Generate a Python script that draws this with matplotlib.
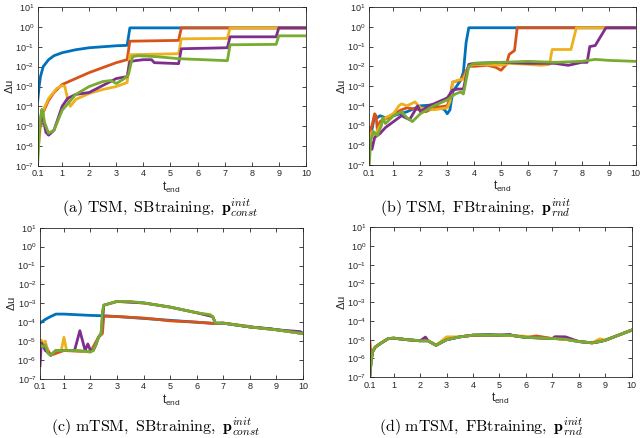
import numpy as np
import matplotlib
matplotlib.use("Agg")
import matplotlib.pyplot as plt
from matplotlib.ticker import FixedLocator, LogLocator, NullFormatter, FuncFormatter

plt.rcParams['font.family'] = ['Liberation Sans', 'DejaVu Sans']
plt.rcParams['mathtext.fontset'] = 'custom'
plt.rcParams['mathtext.rm'] = 'Liberation Sans'
plt.rcParams['mathtext.it'] = 'Liberation Sans:italic'
plt.rcParams['mathtext.bf'] = 'Liberation Sans:bold'

# MATLAB default colour order
colors = ['#0072BD', '#D95319', '#EDB120', '#7E2F8E', '#77AC30']

# ---- (a) TSM, SBtraining, const init  (values are log10 of delta u)
a_blue_x = [0.1, 0.15, 0.2, 0.3, 0.5, 0.7, 1, 1.5, 2, 2.5, 3, 3.4, 3.5, 10]
a_blue_y = [-3.7, -3.0, -2.5, -2.0, -1.65, -1.45, -1.3, -1.15, -1.05, -1.0, -0.95, -0.93, -0.05, -0.05]
a_red_x = [0.1, 0.15, 0.2, 0.25, 0.3, 0.5, 0.7, 1, 1.5, 2, 2.5, 3, 3.4, 3.5, 5.3, 5.4, 10]
a_red_y = [-5.5, -5.0, -4.6, -4.9, -4.3, -3.7, -3.3, -2.9, -2.6, -2.3, -2.05, -1.8, -1.65, -0.72, -0.68, -0.05, -0.05]
a_yel_x = [0.1, 0.15, 0.2, 0.3, 0.5, 0.8, 1, 1.1, 1.2, 1.3, 1.5, 2, 2.5, 3, 3.4, 3.5, 5.3, 5.4, 7.1, 7.2, 10]
a_yel_y = [-6.4, -5.7, -5.0, -4.2, -3.6, -3.1, -2.95, -3.0, -3.6, -4.0, -3.65, -3.35, -3.15, -3.0, -2.8, -1.4, -1.35, -0.6, -0.58, -0.05, -0.05]
a_pur_x = [0.1, 0.15, 0.2, 0.25, 0.3, 0.4, 0.5, 0.7, 1, 1.2, 1.5, 2, 2.5, 3, 3.4, 3.5, 3.7, 4, 4.3, 4.4, 5.3, 5.4, 7.1, 7.2, 8.9, 9.0, 10]
a_pur_y = [-5.7, -5.3, -4.8, -4.2, -4.6, -5.3, -5.45, -5.2, -4.0, -3.6, -3.4, -3.3, -2.95, -2.6, -2.5, -1.75, -1.7, -1.65, -1.65, -1.8, -1.85, -1.1, -1.05, -0.5, -0.5, -0.05, -0.05]
a_grn_x = [0.1, 0.15, 0.2, 0.25, 0.3, 0.35, 0.5, 0.7, 1, 1.5, 2, 2.5, 2.8, 3.0, 3.3, 3.45, 3.6, 3.8, 4.5, 5.3, 7.1, 7.2, 8.9, 9.0, 10]
a_grn_y = [-6.8, -5.5, -4.6, -4.15, -4.4, -4.8, -5.35, -5.2, -4.2, -3.4, -3.0, -2.75, -2.7, -2.85, -2.6, -2.4, -1.5, -1.45, -1.5, -1.6, -1.7, -0.9, -0.88, -0.45, -0.45]

# ---- (b) TSM, FBtraining, rnd init
b_blue_x = [0.1, 0.2, 0.3, 0.4, 0.5, 0.7, 1, 1.5, 2, 2.5, 2.9, 3.0, 3.1, 3.2, 3.5, 3.6, 3.7, 3.8, 10]
b_blue_y = [-5.5, -5.2, -4.5, -4.6, -4.5, -4.6, -4.5, -4.3, -4.0, -3.95, -4.2, -4.4, -4.2, -3.3, -2.7, -2.3, -0.8, -0.05, -0.05]
b_red_x = [0.1, 0.2, 0.3, 0.35, 0.4, 0.5, 0.6, 0.8, 1.0, 1.3, 1.5, 2, 2.2, 2.5, 3, 3.1, 3.2, 3.5, 3.6, 3.8, 4.0, 4.5, 4.8, 5.0, 5.2, 5.3, 5.5, 5.6, 10]
b_red_y = [-5.4, -5.0, -4.4, -4.5, -5.2, -4.8, -4.7, -4.6, -4.4, -4.2, -4.1, -4.2, -4.3, -4.1, -4.0, -3.6, -2.8, -2.7, -2.5, -2.0, -2.0, -1.95, -2.05, -2.2, -1.9, -1.4, -1.2, -0.05, -0.05]
b_yel_x = [0.1, 0.2, 0.3, 0.5, 0.7, 1.0, 1.2, 1.3, 1.5, 1.8, 2.0, 2.5, 3.0, 3.1, 3.2, 3.4, 3.6, 3.8, 4.0, 5.0, 5.3, 6.0, 6.5, 6.8, 6.9, 7.6, 7.8, 10]
b_yel_y = [-5.8, -5.3, -5.5, -5.0, -4.6, -4.4, -4.0, -3.9, -4.0, -3.8, -4.1, -4.2, -4.1, -3.8, -2.8, -2.7, -2.65, -2.0, -1.9, -1.95, -1.85, -1.9, -1.95, -1.9, -1.15, -1.15, -0.05, -0.05]
b_pur_x = [0.1, 0.15, 0.2, 0.3, 0.5, 0.7, 1.0, 1.3, 1.6, 1.9, 2.0, 2.3, 2.5, 3.0, 3.2, 3.4, 3.6, 3.8, 4.0, 5.0, 6.0, 7.0, 7.5, 8.0, 8.2, 8.3, 8.5, 8.7, 8.9, 10]
b_pur_y = [-6.3, -5.8, -6.2, -5.6, -5.4, -5.1, -4.8, -4.5, -4.7, -4.0, -4.3, -4.0, -3.9, -3.6, -3.2, -3.15, -3.15, -1.9, -1.85, -1.8, -1.85, -1.85, -1.95, -1.8, -1.8, -1.0, -0.95, -0.5, -0.05, -0.05]
b_grn_x = [0.1, 0.15, 0.25, 0.4, 0.55, 0.6, 0.7, 1.0, 1.3, 1.5, 1.7, 2.0, 2.5, 3.0, 3.3, 3.5, 3.6, 3.8, 4.0, 5.0, 6.0, 7.0, 8.0, 8.5, 9.0, 10]
b_grn_y = [-7.0, -5.8, -5.3, -5.5, -5.0, -4.6, -4.9, -4.5, -4.3, -4.6, -4.8, -4.4, -4.0, -3.7, -3.4, -3.3, -3.4, -2.0, -1.85, -1.8, -1.75, -1.8, -1.75, -1.65, -1.7, -1.75]

# ---- (c) mTSM, SBtraining, const init
c_blue_x = [0.1, 0.3, 0.5, 0.7, 1, 2, 2.5, 3, 4, 5, 6, 6.7, 7, 8, 9, 10]
c_blue_y = [-4.05, -3.85, -3.7, -3.57, -3.57, -3.64, -3.66, -3.7, -3.8, -3.9, -4.0, -4.07, -4.05, -4.25, -4.4, -4.6]
c_red_x = [0.1, 0.3, 0.5, 1, 2, 2.3, 2.45, 2.5, 3, 4, 4.5, 5, 6, 6.7, 7, 8, 9, 10]
c_red_y = [-5.2, -5.2, -5.75, -5.5, -5.57, -4.8, -4.6, -3.68, -3.7, -3.78, -3.85, -3.93, -4.0, -4.07, -4.05, -4.25, -4.4, -4.6]
c_yel_x = [0.1, 0.15, 0.2, 0.3, 0.4, 0.5, 0.7, 0.9, 1.0, 1.1, 1.5, 2.0, 2.1, 2.2, 2.3, 2.4, 2.5, 3, 4, 5, 6, 6.6, 6.7, 7, 7.9, 8, 9, 10]
c_yel_y = [-5.3, -4.95, -5.1, -5.0, -5.6, -5.75, -5.5, -5.5, -4.8, -5.5, -5.5, -5.57, -5.5, -5.2, -4.8, -4.6, -3.1, -2.9, -2.98, -3.2, -3.5, -3.7, -4.05, -4.05, -4.2, -4.25, -4.4, -4.6]
c_pur_x = [0.1, 0.15, 0.2, 0.3, 0.4, 0.5, 0.7, 1.0, 1.4, 1.6, 1.8, 1.9, 2.0, 2.1, 2.2, 2.3, 2.4, 2.5, 3, 4, 5, 6, 6.6, 6.7, 7, 8, 8.8, 9, 9.9, 10]
c_pur_y = [-6.3, -5.1, -5.2, -5.5, -5.6, -5.75, -5.5, -5.5, -5.5, -4.45, -5.5, -5.15, -5.5, -5.5, -5.2, -4.8, -4.6, -3.1, -2.9, -2.98, -3.2, -3.5, -3.7, -4.05, -4.05, -4.25, -4.35, -4.4, -4.5, -4.6]
c_grn_x = [0.1, 0.2, 0.3, 0.4, 0.5, 0.7, 1, 1.5, 2, 2.1, 2.2, 2.3, 2.4, 2.45, 2.5, 3, 3.5, 4, 5, 5.5, 6, 6.5, 6.6, 6.7, 7, 8, 9, 10]
c_grn_y = [-5.2, -5.3, -5.2, -5.65, -5.75, -5.5, -5.5, -5.5, -5.57, -5.5, -5.2, -4.8, -4.6, -3.4, -3.1, -2.9, -2.9, -2.98, -3.2, -3.35, -3.5, -3.6, -3.7, -4.05, -4.05, -4.25, -4.4, -4.6]

# ---- (d) mTSM, FBtraining, rnd init (all runs share the x grid)
d_x = [0.1, 0.15, 0.2, 0.3, 0.5, 0.8, 1.0, 1.5, 2.0, 2.2, 2.3, 2.6, 3.0, 3.5, 4.0, 4.6, 5.0, 5.4, 5.5, 6.0, 6.4, 7.0, 7.1, 7.5, 8.0, 8.5, 8.8, 9.0, 9.5, 10]
d_blue_y = [-6.9, -6.1, -5.65, -5.4, -5.2, -4.94, -4.92, -5.0, -5.06, -5.06, -5.06, -5.3, -5.0, -4.85, -4.76, -4.72, -4.76, -4.77, -4.78, -4.88, -4.9, -4.94, -4.94, -4.98, -5.1, -5.17, -5.1, -5.03, -4.76, -4.49]
d_red_y = [-5.1, -6.0, -5.65, -5.4, -5.2, -4.94, -4.92, -5.0, -5.06, -5.06, -5.06, -5.3, -5.0, -4.85, -4.76, -4.76, -4.76, -4.77, -4.78, -4.88, -4.8, -4.94, -4.94, -4.98, -5.1, -5.17, -5.1, -5.03, -4.76, -4.49]
d_yel_y = [-6.9, -6.1, -5.65, -5.4, -5.2, -4.94, -4.92, -5.0, -5.06, -5.06, -5.06, -5.3, -4.85, -4.85, -4.76, -4.76, -4.76, -4.77, -4.78, -4.82, -4.9, -4.94, -4.94, -4.98, -5.1, -5.17, -4.95, -5.03, -4.76, -4.49]
d_pur_y = [-6.9, -6.1, -5.65, -5.4, -5.2, -4.94, -4.92, -5.0, -5.06, -4.86, -5.06, -5.3, -5.0, -4.85, -4.76, -4.76, -4.76, -4.72, -4.78, -4.88, -4.9, -4.94, -4.84, -4.85, -5.1, -5.17, -5.1, -5.03, -4.76, -4.49]
d_grn_y = [-6.9, -6.1, -5.65, -5.4, -5.2, -4.94, -4.92, -5.0, -5.06, -5.06, -5.06, -5.3, -5.0, -4.85, -4.76, -4.76, -4.76, -4.77, -4.78, -4.88, -4.9, -4.94, -4.94, -4.98, -5.1, -5.17, -5.1, -5.03, -4.76, -4.49]

panels = [
    ([a_blue_x, a_red_x, a_yel_x, a_pur_x, a_grn_x], [a_blue_y, a_red_y, a_yel_y, a_pur_y, a_grn_y]),
    ([b_blue_x, b_red_x, b_yel_x, b_pur_x, b_grn_x], [b_blue_y, b_red_y, b_yel_y, b_pur_y, b_grn_y]),
    ([c_blue_x, c_red_x, c_yel_x, c_pur_x, c_grn_x], [c_blue_y, c_red_y, c_yel_y, c_pur_y, c_grn_y]),
    ([d_x] * 5, [d_blue_y, d_red_y, d_yel_y, d_pur_y, d_grn_y]),
]
captions = [
    r'$\mathrm{(a)\ TSM,\ SBtraining,\ }\mathbf{p}_{const}^{init}$',
    r'$\mathrm{(b)\ TSM,\ FBtraining,\ }\mathbf{p}_{rnd}^{init}$',
    r'$\mathrm{(c)\ mTSM,\ SBtraining,\ }\mathbf{p}_{const}^{init}$',
    r'$\mathrm{(d)\ mTSM,\ FBtraining,\ }\mathbf{p}_{rnd}^{init}$',
]
xticks = [0.1, 1, 2, 3, 4, 5, 6, 7, 8, 9, 10]
xticklabels = ['0.1', '1', '2', '3', '4', '5', '6', '7', '8', '9', '10']
yticks = [1e-7, 1e-6, 1e-5, 1e-4, 1e-3, 1e-2, 1e-1, 1e0, 1e1]

rects = [
    [0.059, 0.621, 0.419, 0.363],
    [0.577, 0.623, 0.416, 0.361],
    [0.0625, 0.135, 0.411, 0.345],
    [0.578, 0.139, 0.409, 0.342],
]
# caption positions (x centre, baseline)
cap_x = [160 / 640, 476 / 640, 155 / 640, 481 / 640]
cap_y = [1 - 213 / 438, 1 - 213 / 438, 1 - 432 / 438, 1 - 432 / 438]

fig = plt.figure(figsize=(6.4, 4.38), dpi=100)
axc = '#262626'
for i, (rect, (xs, ys)) in enumerate(zip(rects, panels)):
    ax = fig.add_axes(rect)
    for x, y, c in zip(xs, ys, colors):
        ax.plot(x, 10.0 ** np.array(y), color=c, lw=2.0, solid_joinstyle='round')
    ax.set_yscale('log')
    ax.set_xlim(0.1, 10)
    ax.set_ylim(1e-7, 1e1)
    ax.xaxis.set_major_locator(FixedLocator(xticks))
    ax.set_xticklabels(xticklabels)
    ax.yaxis.set_major_locator(FixedLocator(yticks))
    ax.yaxis.set_major_formatter(FuncFormatter(lambda v, p: r'$10^{%d}$' % round(np.log10(v))))
    ax.yaxis.set_minor_locator(LogLocator(base=10, subs=np.arange(2, 10)))
    ax.yaxis.set_minor_formatter(NullFormatter())
    ax.tick_params(which='both', direction='in', top=True, right=True, colors=axc,
                   labelsize=6.5, labelcolor=axc)
    ax.tick_params(which='major', length=3, width=0.6, pad=2.5)
    ax.tick_params(which='minor', length=1.6, width=0.5)
    for s in ax.spines.values():
        s.set_color(axc)
        s.set_linewidth(0.6)
    ax.set_xlabel(r'$\mathrm{t}_{\mathrm{end}}$', fontsize=8.5, color=axc, labelpad=1)
    ax.set_ylabel(r'$\Delta$u', fontsize=8, color=axc, labelpad=0)
    fig.text(cap_x[i], cap_y[i], captions[i], ha='center', va='baseline', fontsize=11.5,
             math_fontfamily='cm')

fig.savefig('out.png', dpi=100)
